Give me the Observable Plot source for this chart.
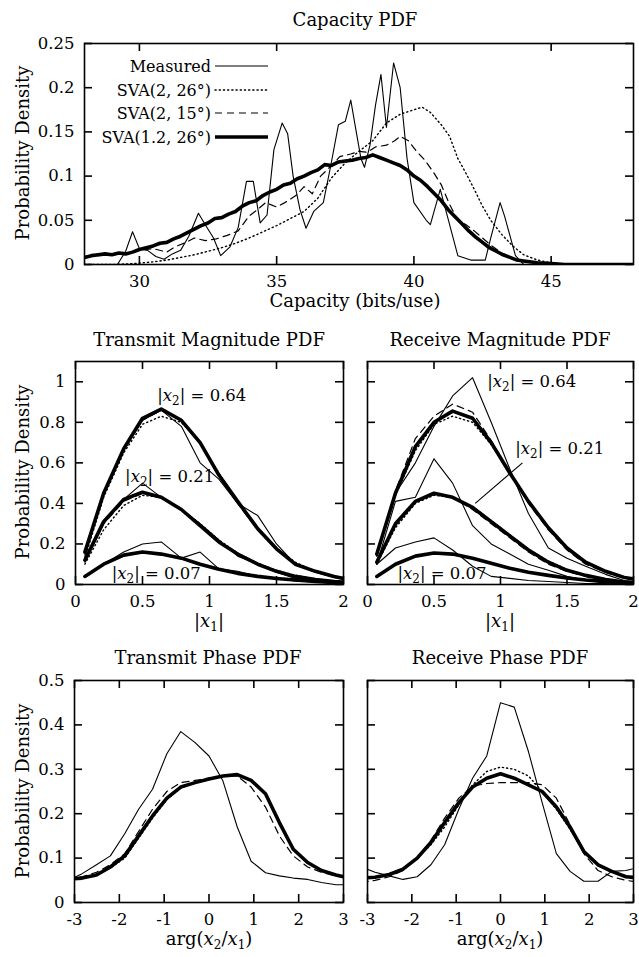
<!DOCTYPE html>
<html><head><meta charset="utf-8">
<script src="https://cdn.jsdelivr.net/npm/d3@7"></script>
<script src="https://cdn.jsdelivr.net/npm/@observablehq/plot@0.6"></script>
<style>
body{margin:0;background:#fff}
#c{position:relative;width:639px;height:957px;font-family:'DejaVu Serif',serif;overflow:hidden}
#c .p{position:absolute}
#c svg{overflow:visible}
</style>
</head><body><div id="c"></div>
<script>
// ---------------- DATA ----------------
// Capacity PDF (x: bits/use, y: density)
const capMeasured = [[28,0],[29.2,0],[29.5,0.015],[29.75,0.037],[30.0,0.018],[30.3,0.016],[30.6,0.009],[30.9,0.006],[31.2,0.012],[31.5,0.016],[31.8,0.032],[32.15,0.058],[32.4,0.045],[32.7,0.03],[32.96,0.01],[33.3,0.02],[33.6,0.042],[33.9,0.094],[34.15,0.094],[34.4,0.047],[34.65,0.056],[34.9,0.13],[35.2,0.16],[35.4,0.148],[35.6,0.1],[35.85,0.062],[36.07,0.041],[36.35,0.06],[36.7,0.07],[36.96,0.11],[37.25,0.158],[37.5,0.162],[37.7,0.186],[37.9,0.15],[38.07,0.12],[38.2,0.11],[38.4,0.135],[38.6,0.18],[38.8,0.215],[39.0,0.155],[39.26,0.228],[39.5,0.2],[39.75,0.12],[40.0,0.07],[40.45,0.05],[40.6,0.045],[40.96,0.085],[41.26,0.05],[41.6,0.01],[42.07,0.005],[42.6,0.005],[42.8,0.03],[43.14,0.07],[43.3,0.055],[43.7,0.01],[44.0,0.0],[48,0]];
const capSva2_26 = [[28,0],[29,0],[29.8,0.001],[30.5,0.003],[31,0.005],[31.5,0.008],[32,0.011],[32.5,0.015],[33,0.019],[33.5,0.024],[34,0.03],[34.5,0.037],[35,0.044],[35.5,0.052],[36,0.06],[36.5,0.075],[37,0.098],[37.5,0.115],[38,0.128],[38.5,0.14],[39,0.16],[39.5,0.17],[40,0.175],[40.3,0.178],[40.6,0.172],[41,0.158],[41.3,0.145],[41.6,0.12],[41.9,0.103],[42.2,0.085],[42.5,0.066],[42.8,0.05],[43.2,0.034],[43.6,0.021],[44.0,0.011],[44.5,0.005],[45,0.002],[45.5,0],[48,0]];
const capSva2_15 = [[28,0.009],[28.5,0.01],[29,0.011],[29.5,0.012],[30,0.016],[30.5,0.018],[31,0.014],[31.3,0.02],[31.7,0.025],[32,0.03],[32.4,0.027],[32.8,0.029],[33.2,0.033],[33.6,0.038],[34,0.055],[34.3,0.062],[34.6,0.07],[35,0.065],[35.3,0.07],[35.7,0.078],[36,0.088],[36.3,0.08],[36.6,0.1],[37,0.112],[37.3,0.122],[37.7,0.125],[38,0.128],[38.3,0.127],[38.6,0.133],[39,0.135],[39.3,0.14],[39.5,0.145],[39.8,0.14],[40.1,0.128],[40.4,0.118],[40.7,0.105],[41,0.09],[41.3,0.068],[41.6,0.05],[41.9,0.045],[42.2,0.038],[42.5,0.03],[42.8,0.022],[43.2,0.013],[43.6,0.007],[44,0.003],[44.5,0.001],[45,0],[48,0]];
const capSva12_26 = [[28,0.008],[28.25,0.01],[28.5,0.011],[28.75,0.012],[29,0.011],[29.25,0.013],[29.5,0.012],[29.75,0.014],[30,0.017],[30.25,0.019],[30.5,0.021],[30.75,0.024],[31,0.025],[31.25,0.029],[31.5,0.032],[31.75,0.036],[32,0.04],[32.25,0.044],[32.5,0.047],[32.75,0.052],[33,0.053],[33.25,0.057],[33.5,0.06],[33.75,0.066],[34,0.07],[34.25,0.072],[34.5,0.078],[34.75,0.082],[35,0.085],[35.25,0.09],[35.5,0.092],[35.75,0.097],[36,0.1],[36.25,0.104],[36.5,0.107],[36.75,0.113],[37,0.112],[37.25,0.116],[37.5,0.117],[37.75,0.118],[38,0.12],[38.25,0.121],[38.5,0.124],[38.75,0.121],[39,0.118],[39.25,0.115],[39.5,0.112],[39.75,0.107],[40,0.1],[40.25,0.095],[40.5,0.088],[40.75,0.08],[41,0.072],[41.25,0.062],[41.5,0.054],[41.75,0.046],[42,0.038],[42.25,0.031],[42.5,0.025],[42.75,0.019],[43,0.015],[43.25,0.011],[43.5,0.008],[43.75,0.005],[44,0.004],[44.5,0.002],[45,0.001],[45.5,0],[48,0]];

// Magnitude PDFs: |x1| samples
const magX = [0.07,0.21,0.36,0.5,0.64,0.79,0.93,1.07,1.21,1.36,1.5,1.64,1.79,1.93,2.0];
// Transmit magnitude
const tmMeas64  = [0.14,0.45,0.66,0.81,0.86,0.78,0.6,0.52,0.4,0.34,0.2,0.1,0.06,0.035,0.028];
const tmDot64   = [0.13,0.43,0.65,0.79,0.83,0.8,0.7,0.55,0.41,0.28,0.18,0.11,0.065,0.035,0.028];
const tmDash64  = [0.15,0.45,0.67,0.81,0.86,0.81,0.7,0.54,0.4,0.27,0.175,0.1,0.065,0.04,0.03];
const tmThick64 = [0.16,0.45,0.67,0.82,0.865,0.81,0.7,0.54,0.41,0.275,0.176,0.1,0.065,0.04,0.03];
const tmMeas21  = [0.11,0.3,0.42,0.5,0.43,0.37,0.3,0.22,0.14,0.1,0.06,0.03,0.02,0.01,0.008];
const tmDot21   = [0.1,0.27,0.39,0.44,0.43,0.37,0.3,0.22,0.155,0.105,0.07,0.045,0.028,0.017,0.014];
const tmDash21  = [0.12,0.3,0.41,0.45,0.43,0.37,0.29,0.21,0.15,0.1,0.066,0.04,0.025,0.015,0.012];
const tmThick21 = [0.12,0.31,0.42,0.455,0.43,0.37,0.29,0.21,0.15,0.1,0.065,0.04,0.025,0.015,0.012];
const tmMeas07  = [0.04,0.1,0.16,0.2,0.21,0.13,0.16,0.077,0.065,0.04,0.03,0.018,0.012,0.006,0.005];
const tmDot07   = [0.04,0.1,0.145,0.16,0.15,0.13,0.1,0.075,0.055,0.04,0.03,0.022,0.015,0.01,0.008];
const tmDash07  = [0.04,0.1,0.145,0.16,0.15,0.13,0.1,0.075,0.055,0.04,0.03,0.022,0.015,0.01,0.008];
const tmThick07 = [0.04,0.1,0.145,0.16,0.15,0.13,0.1,0.075,0.055,0.04,0.03,0.022,0.015,0.01,0.008];
// Receive magnitude
const rmMeas64  = [0.15,0.45,0.6,0.78,0.93,1.02,0.8,0.57,0.35,0.18,0.13,0.09,0.05,0.02,0.015];
const rmDot64   = [0.14,0.44,0.66,0.79,0.83,0.8,0.69,0.55,0.41,0.28,0.18,0.11,0.065,0.035,0.028];
const rmDash64  = [0.14,0.46,0.72,0.83,0.89,0.85,0.71,0.55,0.4,0.27,0.17,0.1,0.06,0.03,0.024];
const rmThick64 = [0.15,0.45,0.68,0.8,0.855,0.82,0.7,0.55,0.41,0.28,0.18,0.11,0.065,0.035,0.028];
const rmMeas21  = [0.1,0.41,0.43,0.62,0.5,0.29,0.2,0.15,0.1,0.07,0.04,0.02,0.01,0.005,0.004];
const rmDot21   = [0.1,0.28,0.4,0.44,0.43,0.385,0.315,0.245,0.175,0.115,0.075,0.047,0.027,0.014,0.011];
const rmDash21  = [0.12,0.29,0.41,0.455,0.43,0.37,0.3,0.23,0.16,0.1,0.065,0.04,0.022,0.011,0.009];
const rmThick21 = [0.11,0.3,0.41,0.45,0.43,0.38,0.31,0.24,0.17,0.11,0.07,0.045,0.025,0.012,0.01];
const rmMeas07  = [0.1,0.18,0.21,0.23,0.17,0.09,0.04,0.03,0.02,0.015,0.01,0.005,0.005,0,0];
const rmDot07   = [0.04,0.1,0.14,0.155,0.15,0.13,0.105,0.08,0.06,0.045,0.032,0.022,0.014,0.008,0.006];
const rmDash07  = [0.04,0.1,0.14,0.155,0.15,0.13,0.105,0.08,0.06,0.045,0.032,0.022,0.014,0.008,0.006];
const rmThick07 = [0.04,0.1,0.14,0.155,0.15,0.13,0.105,0.08,0.06,0.045,0.032,0.022,0.014,0.008,0.006];

// Phase PDFs: arg(x2/x1) samples k*pi/10, k=-10..10
const phX = [-3.14,-2.83,-2.51,-2.2,-1.88,-1.57,-1.26,-0.94,-0.63,-0.31,0,0.31,0.63,0.94,1.26,1.57,1.88,2.2,2.51,2.83,3.14];
const tpMeas  = [0.05,0.065,0.085,0.105,0.155,0.21,0.255,0.335,0.385,0.36,0.33,0.274,0.17,0.093,0.067,0.06,0.055,0.052,0.045,0.04,0.04];
const tpDot   = [0.053,0.055,0.061,0.078,0.1,0.145,0.19,0.232,0.258,0.27,0.278,0.285,0.288,0.275,0.245,0.18,0.12,0.09,0.072,0.062,0.055];
const tpDash  = [0.055,0.058,0.068,0.085,0.11,0.16,0.21,0.25,0.27,0.275,0.28,0.285,0.285,0.26,0.215,0.15,0.105,0.08,0.068,0.06,0.055];
const tpThick = [0.053,0.055,0.062,0.08,0.105,0.15,0.195,0.235,0.26,0.27,0.278,0.285,0.288,0.275,0.245,0.18,0.12,0.09,0.072,0.062,0.055];
const rpMeas  = [0.08,0.068,0.06,0.052,0.058,0.085,0.13,0.21,0.28,0.33,0.45,0.44,0.34,0.225,0.11,0.07,0.048,0.048,0.07,0.072,0.08];
const rpDot   = [0.055,0.057,0.063,0.075,0.1,0.13,0.17,0.22,0.265,0.295,0.305,0.3,0.285,0.25,0.21,0.165,0.115,0.085,0.07,0.06,0.055];
const rpDash  = [0.045,0.05,0.058,0.072,0.1,0.14,0.19,0.235,0.262,0.268,0.27,0.27,0.27,0.265,0.235,0.175,0.11,0.072,0.058,0.05,0.045];
const rpThick = [0.055,0.057,0.063,0.075,0.1,0.135,0.18,0.225,0.26,0.28,0.29,0.28,0.265,0.25,0.215,0.17,0.115,0.085,0.07,0.058,0.055];

// Ticks
const capXTicks = [30,35,40,45];
const capYTicks = [0,0.05,0.1,0.15,0.2,0.25];
const magXTicks = [0,0.5,1,1.5,2];
const magYTicks = [0,0.2,0.4,0.6,0.8,1];
const phXTicks = [-3,-2,-1,0,1,2,3];
const phYTicks = [0,0.1,0.2,0.3,0.4,0.5];

// Legend and annotations
const legendNames = ["Measured","SVA(2, 26°)","SVA(2, 15°)","SVA(1.2, 26°)"];
const tmLabels = [{x:0.61,y:0.93,t:"|x_2| = 0.64"},{x:0.37,y:0.53,t:"|x_2| = 0.21"},{x:0.27,y:0.055,t:"|x_2| = 0.07"}];
const rmLabels = [{x:0.9,y:1.0,t:"|x_2| = 0.64"},{x:1.11,y:0.67,t:"|x_2| = 0.21"},{x:0.225,y:0.055,t:"|x_2| = 0.07"}];
const rmPointer = [{x1:1.165,y1:0.6,x2:0.81,y2:0.4}];

// ---------------- STYLES ----------------
const styles = [
  {stroke:"black", strokeWidth:1.1},                              // Measured
  {stroke:"black", strokeWidth:1.4, strokeDasharray:"1.2,3", strokeLinecap:"round"}, // SVA(2,26)
  {stroke:"black", strokeWidth:1.2, strokeDasharray:"7,5"},       // SVA(2,15)
  {stroke:"black", strokeWidth:3.6}                               // SVA(1.2,26)
];
const fmt = d => String(d);
const zip = (xs, ys) => xs.map((x,i) => [x, ys[i]]);
const TICK = 8;

function lines(seriesList) {
  const order = [3,2,1,0];
  const marks = [];
  for (const group of seriesList) {
    for (const k of order) {
      marks.push(Plot.line(group[k], {x: d=>d[0], y: d=>d[1], ...styles[k], clip: true}));
    }
  }
  return marks;
}

// inward ticks on all four sides: rules inset to a short stub
function axes(xt, yt, yLabels, innerW, innerH) {
  const tk = {stroke:"#000", strokeWidth:1.6, strokeOpacity:1};
  return [
    Plot.ruleX(xt, {x: d=>d, insetTop: innerH - TICK, ...tk}),
    Plot.ruleX(xt, {x: d=>d, insetBottom: innerH - TICK, ...tk}),
    Plot.ruleY(yt, {y: d=>d, insetRight: innerW - TICK, ...tk}),
    Plot.ruleY(yt, {y: d=>d, insetLeft: innerW - TICK, ...tk}),
    Plot.axisX(xt, {anchor:"bottom", tickSize:0, tickPadding:11, tickFormat: fmt, label:null}),
    yLabels ? Plot.axisY(yt, {anchor:"left", tickSize:0, tickPadding:10, tickFormat: fmt, label:null})
            : Plot.axisY(yt, {anchor:"left", tickSize:0, tickFormat: () => "", label:null}),
    Plot.frame({stroke:"black", strokeWidth:1.6})
  ];
}

const ns = "http://www.w3.org/2000/svg";
function setMath(el, s) {
  while (el.firstChild) el.removeChild(el.firstChild);
  const parts = s.split(/(x_\d)/);
  let shifted = false;
  for (const p of parts) {
    if (!p) continue;
    const m = p.match(/^x_(\d)$/);
    if (m) {
      const a = document.createElementNS(ns, "tspan");
      a.setAttribute("font-style","italic");
      if (shifted) { a.setAttribute("dy","-4"); shifted = false; }
      a.textContent = "x"; el.appendChild(a);
      const b = document.createElementNS(ns, "tspan");
      b.setAttribute("font-size","12"); b.setAttribute("dy","4");
      b.textContent = m[1]; el.appendChild(b);
      shifted = true;
    } else {
      const c = document.createElementNS(ns, "tspan");
      if (shifted) { c.setAttribute("dy","-4"); shifted = false; }
      c.textContent = p; el.appendChild(c);
    }
  }
}

const container = document.getElementById("c");
function place(svg, left, top) {
  svg.classList.add("p");
  svg.style.left = left + "px";
  svg.style.top = top + "px";
  svg.querySelectorAll("text").forEach(t => { if (/x_\d/.test(t.textContent)) setMath(t, t.textContent); });
  container.appendChild(svg);
}

const baseStyle = {fontFamily:"'DejaVu Serif', serif", fontSize:"16.5px", background:"transparent", color:"black", overflow:"visible"};

// ---------------- PANEL 1: Capacity PDF ----------------
place(Plot.plot({
  width:639, height:320, marginLeft:84, marginRight:6, marginTop:43, marginBottom:56,
  style: baseStyle,
  x:{domain:[28,48]}, y:{domain:[0,0.25]},
  marks:[
    ...lines([[capMeasured, capSva2_26, capSva2_15, capSva12_26]]),
    ...axes(capXTicks, capYTicks, true, 639-84-6, 320-43-56)
  ]
}), 0, 0);

// ---------------- PANEL 2/3: Magnitude PDFs ----------------
function magPanel(groups, labels, yLabels, extra) {
  const width = yLabels ? 355 : 284, height = 300;
  const mL = yLabels ? 75 : 12, mR = yLabels ? 12 : 6, mT = 31, mB = 46;
  return Plot.plot({
    width, height, marginLeft: mL, marginRight: mR, marginTop: mT, marginBottom: mB,
    style: baseStyle,
    x:{domain:[0,2]}, y:{domain:[0,1.1]},
    marks:[
      ...lines(groups),
      ...(extra || []),
      Plot.text(labels, {x:"x", y:"y", text:"t", textAnchor:"start", fontSize:16.5}),
      ...axes(magXTicks, magYTicks, yLabels, width-mL-mR, height-mT-mB)
    ]
  });
}
place(magPanel([
  [zip(magX,tmMeas64), zip(magX,tmDot64), zip(magX,tmDash64), zip(magX,tmThick64)],
  [zip(magX,tmMeas21), zip(magX,tmDot21), zip(magX,tmDash21), zip(magX,tmThick21)],
  [zip(magX,tmMeas07), zip(magX,tmDot07), zip(magX,tmDash07), zip(magX,tmThick07)]
], tmLabels, true), 0, 330);
place(magPanel([
  [zip(magX,rmMeas64), zip(magX,rmDot64), zip(magX,rmDash64), zip(magX,rmThick64)],
  [zip(magX,rmMeas21), zip(magX,rmDot21), zip(magX,rmDash21), zip(magX,rmThick21)],
  [zip(magX,rmMeas07), zip(magX,rmDot07), zip(magX,rmDash07), zip(magX,rmThick07)]
], rmLabels, false, [Plot.link(rmPointer, {x1:"x1", y1:"y1", x2:"x2", y2:"y2", stroke:"black", strokeWidth:1.1})]), 355, 330);

// ---------------- PANEL 4/5: Phase PDFs ----------------
function phPanel(group, yLabels) {
  const width = yLabels ? 355 : 284, height = 317;
  const mL = yLabels ? 74 : 12, mR = yLabels ? 12 : 6, mT = 40, mB = 55;
  return Plot.plot({
    width, height, marginLeft: mL, marginRight: mR, marginTop: mT, marginBottom: mB,
    style: baseStyle,
    x:{domain:[-3,3]}, y:{domain:[0,0.5]},
    marks:[ ...lines([group]), ...axes(phXTicks, phYTicks, yLabels, width-mL-mR, height-mT-mB) ]
  });
}
place(phPanel([zip(phX,tpMeas), zip(phX,tpDot), zip(phX,tpDash), zip(phX,tpThick)], true), 0, 640);
place(phPanel([zip(phX,rpMeas), zip(phX,rpDot), zip(phX,rpDash), zip(phX,rpThick)], false), 355, 640);

// ---------------- TEXT OVERLAY ----------------
const ov = document.createElementNS(ns, "svg");
ov.setAttribute("width", 639); ov.setAttribute("height", 957);
ov.classList.add("p"); ov.style.left = "0px"; ov.style.top = "0px";
ov.setAttribute("font-family", "'DejaVu Serif', serif");
function addText(s, x, y, {anchor="middle", size=18, rotate=0, baseline=null} = {}) {
  const t = document.createElementNS(ns, "text");
  t.setAttribute("x", x); t.setAttribute("y", y);
  t.setAttribute("text-anchor", anchor); t.setAttribute("font-size", size);
  if (baseline) t.setAttribute("dominant-baseline", baseline);
  if (rotate) t.setAttribute("transform", `rotate(${rotate},${x},${y})`);
  if (/x_\d/.test(s)) setMath(t, s); else t.textContent = s;
  ov.appendChild(t);
  return t;
}
addText("Capacity PDF", 355, 26);
addText("Capacity (bits/use)", 355, 307);
addText("Transmit Magnitude PDF", 209, 346);
addText("Receive Magnitude PDF", 500, 346);
addText("|x_1|", 209, 627);
addText("|x_1|", 500, 627);
addText("Transmit Phase PDF", 208, 664);
addText("Receive Phase PDF", 500, 664);
addText("arg(x_2/x_1)", 209, 945);
addText("arg(x_2/x_1)", 500, 945);
addText("Probability Density", 22, 153, {rotate:-90, baseline:"central"});
addText("Probability Density", 22, 472, {rotate:-90, baseline:"central"});
addText("Probability Density", 22, 791, {rotate:-90, baseline:"central"});
// legend
const legRows = [66, 90, 113, 137];
legendNames.forEach((name, i) => {
  addText(name, 211, legRows[i] + 6, {anchor:"end", size:16});
  const l = document.createElementNS(ns, "line");
  l.setAttribute("x1", 215); l.setAttribute("x2", 268);
  l.setAttribute("y1", legRows[i]); l.setAttribute("y2", legRows[i]);
  const s = styles[i];
  l.setAttribute("stroke", s.stroke); l.setAttribute("stroke-width", s.strokeWidth);
  if (s.strokeDasharray) l.setAttribute("stroke-dasharray", s.strokeDasharray);
  if (s.strokeLinecap) l.setAttribute("stroke-linecap", s.strokeLinecap);
  ov.appendChild(l);
});
container.appendChild(ov);
</script>
</body></html>
